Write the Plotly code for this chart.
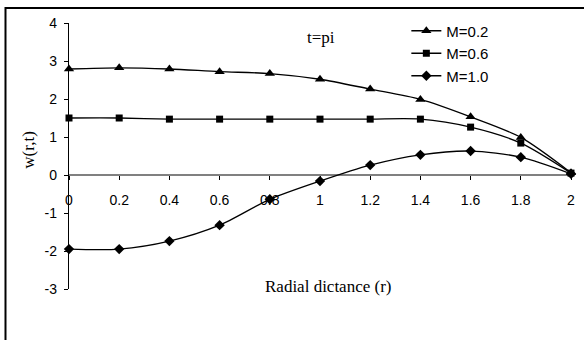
import plotly.graph_objects as go

# Radial positions and deflection w(r, t) at t = pi for three values of M
r = [0, 0.2, 0.4, 0.6, 0.8, 1.0, 1.2, 1.4, 1.6, 1.8, 2.0]
w_m02 = [2.79, 2.82, 2.79, 2.72, 2.67, 2.52, 2.26, 1.99, 1.53, 0.99, 0.06]
w_m06 = [1.50, 1.50, 1.47, 1.47, 1.47, 1.47, 1.47, 1.47, 1.26, 0.84, 0.05]
w_m10 = [-1.95, -1.95, -1.74, -1.32, -0.64, -0.16, 0.26, 0.53, 0.63, 0.47, 0.03]

series_names = ["M=0.2", "M=0.6", "M=1.0"]
x_ticks = [0, 0.2, 0.4, 0.6, 0.8, 1, 1.2, 1.4, 1.6, 1.8, 2]
x_tick_text = ["0", "0.2", "0.4", "0.6", "0.8", "1", "1.2", "1.4", "1.6", "1.8", "2"]
y_ticks = [-3, -2, -1, 0, 1, 2, 3, 4]
y_tick_text = ["-3", "-2", "-1", "0", "1", "2", "3", "4"]

X_RANGE = [0, 2]
Y_RANGE = [-3, 4]
zero_pos = (0 - Y_RANGE[0]) / (Y_RANGE[1] - Y_RANGE[0])

tick_font = dict(family="Liberation Sans, Arial", size=14, color="black")
serif = "Liberation Serif, Times New Roman"

markers = [
    dict(symbol="triangle-up", size=9),
    dict(symbol="square", size=7),
    dict(symbol="diamond", size=8),
]

fig = go.Figure()
for i, (name, ys, mk) in enumerate(zip(series_names, [w_m02, w_m06, w_m10], markers)):
    fig.add_trace(go.Scatter(
        x=r, y=ys, name=name, mode="lines+markers",
        line=dict(color="black", width=1.3, shape="spline", smoothing=0.8),
        marker=dict(color="black", **mk),
        legendgroup=f"g{i}", cliponaxis=False,
    ))

axis_common = dict(showgrid=False, zeroline=False, layer="below traces")

fig.update_layout(
    width=584, height=340,
    margin=dict(l=69, r=9, t=23, b=51),
    paper_bgcolor="white", plot_bgcolor="white",
    showlegend=True,
    legend=dict(
        x=0.672, y=1.032, xanchor="left", yanchor="top",
        bgcolor="rgba(0,0,0,0)", font=dict(family="Liberation Sans, Arial", size=15, color="black"),
        tracegroupgap=0, itemwidth=30,
    ),
    xaxis=dict(
        range=X_RANGE, anchor="free", position=zero_pos,
        tickvals=x_ticks, ticktext=x_tick_text,
        ticks="outside", ticklen=4, tickcolor="black", tickwidth=1,
        showline=True, linecolor="#808080", linewidth=1.5,
        tickfont=tick_font, ticklabelstandoff=8, **axis_common,
    ),
    xaxis2=dict(
        range=X_RANGE, overlaying="x", anchor="free", position=zero_pos,
        tickvals=x_ticks, ticks="inside", ticklen=4, tickcolor="black", tickwidth=1,
        showticklabels=False, showline=False, **axis_common,
    ),
    yaxis=dict(
        range=Y_RANGE, anchor="x",
        tickvals=y_ticks, ticktext=y_tick_text,
        ticks="outside", ticklen=4, tickcolor="black", tickwidth=1,
        showline=True, linecolor="black", linewidth=1.3,
        tickfont=tick_font, ticklabelstandoff=4, **axis_common,
    ),
    yaxis2=dict(
        range=Y_RANGE, overlaying="y", anchor="free", position=0, side="left",
        tickvals=y_ticks, ticks="inside", ticklen=4, tickcolor="black", tickwidth=1,
        showticklabels=False, showline=False, **axis_common,
    ),
)

# Axis titles and case label
label_font = dict(family=serif, size=17, color="black")
fig.add_annotation(text="w(r,t)", xref="paper", yref="paper", x=-0.08, y=0.523,
                   xanchor="center", yanchor="middle", textangle=-90, showarrow=False,
                   font=label_font)
fig.add_annotation(text="Radial dictance (r)", xref="paper", yref="paper", x=0.516, y=0.008,
                   xanchor="center", yanchor="middle", showarrow=False, font=label_font)
fig.add_annotation(text="t=pi", xref="paper", yref="paper", x=0.502, y=0.947,
                   xanchor="center", yanchor="middle", showarrow=False, font=label_font)

# Chart-area frame
fig.add_shape(type="rect", xref="paper", yref="paper", x0=-0.1265, y0=-0.4, x1=1.2, y1=1.0564,
              line=dict(color="black", width=2), fillcolor="rgba(0,0,0,0)", layer="below")

fig.write_html("out.html")
